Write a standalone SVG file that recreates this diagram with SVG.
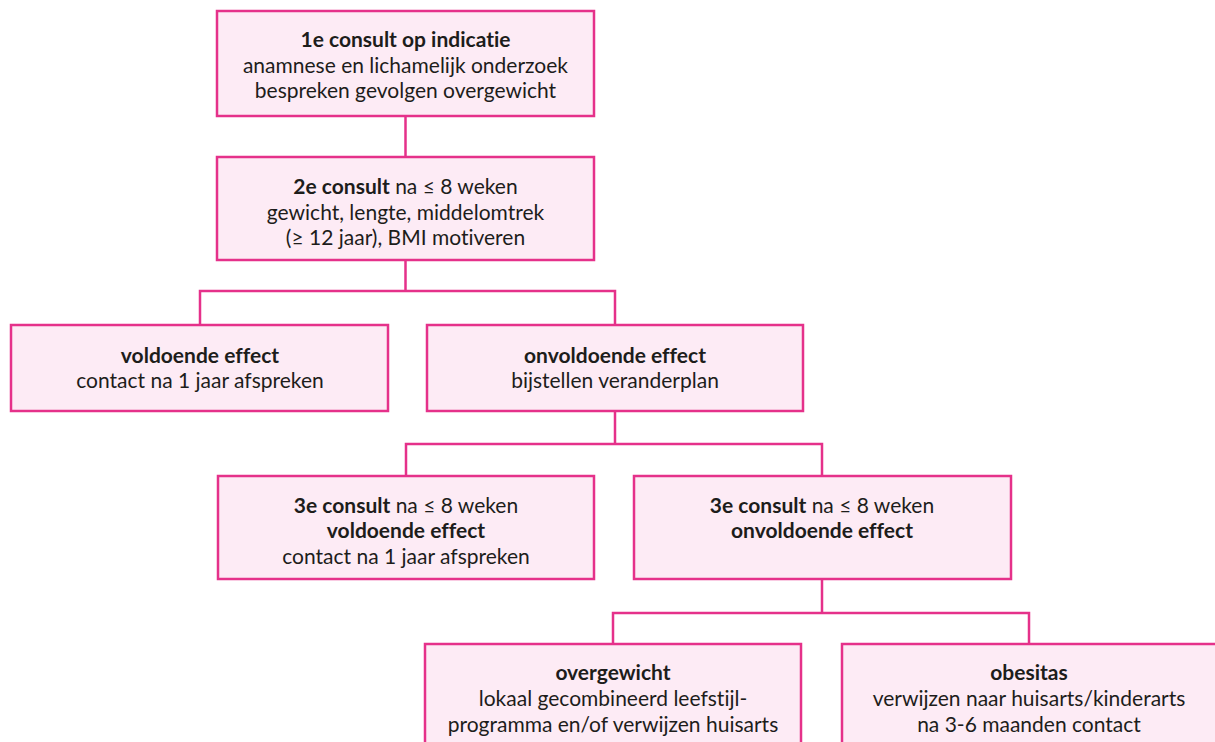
<svg xmlns="http://www.w3.org/2000/svg" width="1215" height="742" viewBox="0 0 1215 742">
<style>
.box{fill:#fdebf5;stroke:#e5318a;stroke-width:2.5}
.ln{fill:none;stroke:#e5318a;stroke-width:2.5}
text{font-family:Lato,"Liberation Sans",sans-serif;font-size:21px;fill:#1d1d1b;text-anchor:middle;font-variant-ligatures:none}
.b{font-weight:bold}
</style>
<rect width="1215" height="742" fill="#ffffff"/>
<g id="connectors">
<path class="ln" d="M405.5 116V157"/>
<path class="ln" d="M405.5 260V291M200 325V291H615V325"/>
<path class="ln" d="M615 411V444M406 476V444H822V476"/>
<path class="ln" d="M822 579V613M613 644V613H1029V644"/>
</g>
<g id="n1">
<rect class="box" x="217" y="11" width="377" height="105"/>
<text x="405.5" y="47" class="b">1e consult op indicatie</text>
<text x="405.5" y="73">anamnese en lichamelijk onderzoek</text>
<text x="405.5" y="98">bespreken gevolgen overgewicht</text>
</g>
<g id="n2">
<rect class="box" x="217" y="157" width="377" height="103"/>
<text x="405.5" y="194"><tspan class="b">2e consult</tspan> na ≤ 8 weken</text>
<text x="405.5" y="220">gewicht, lengte, middelomtrek</text>
<text x="405.5" y="245">(≥ 12 jaar), BMI motiveren</text>
</g>
<g id="n3">
<rect class="box" x="11" y="325" width="377" height="86"/>
<text x="200" y="363" class="b">voldoende effect</text>
<text x="200" y="388">contact na 1 jaar afspreken</text>
</g>
<g id="n4">
<rect class="box" x="427" y="325" width="376" height="86"/>
<text x="615" y="363" class="b">onvoldoende effect</text>
<text x="615" y="388">bijstellen veranderplan</text>
</g>
<g id="n5">
<rect class="box" x="218" y="476" width="376" height="103"/>
<text x="406" y="513"><tspan class="b">3e consult</tspan> na ≤ 8 weken</text>
<text x="406" y="538" class="b">voldoende effect</text>
<text x="406" y="564">contact na 1 jaar afspreken</text>
</g>
<g id="n6">
<rect class="box" x="634" y="476" width="377" height="103"/>
<text x="822" y="513"><tspan class="b">3e consult</tspan> na ≤ 8 weken</text>
<text x="822" y="538" class="b">onvoldoende effect</text>
</g>
<g id="n7">
<rect class="box" x="425" y="644" width="376" height="110"/>
<text x="613" y="680" class="b">overgewicht</text>
<text x="613" y="706">lokaal gecombineerd leefstijl-</text>
<text x="613" y="732">programma en/of verwijzen huisarts</text>
</g>
<g id="n8">
<rect class="box" x="842" y="644" width="376" height="110"/>
<text x="1029" y="680" class="b">obesitas</text>
<text x="1029" y="706">verwijzen naar huisarts/kinderarts</text>
<text x="1029" y="732">na 3-6 maanden contact</text>
</g>
</svg>
